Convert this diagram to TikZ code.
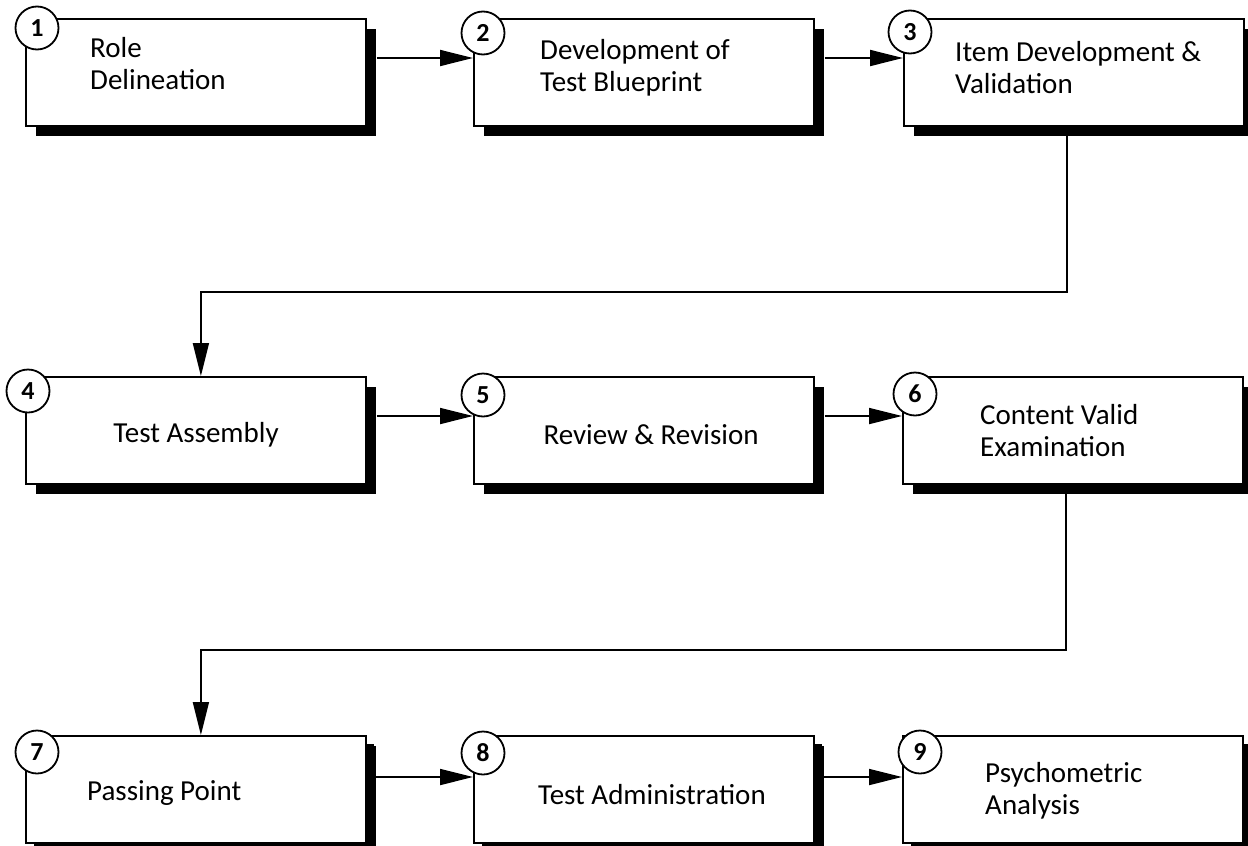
\documentclass[tikz,border=0pt]{standalone}
\usepackage{fontspec}
\setmainfont{Carlito}
\usetikzlibrary{arrows.meta,shadows,calc}
\begin{document}
\begin{tikzpicture}[x=1pt,y=-1pt,
  box/.style={draw=black,line width=1.8pt,fill=white,minimum width=340pt,minimum height=107pt,inner sep=0pt,anchor=north west,
    drop shadow={shadow xshift=10pt,shadow yshift=-10pt,fill=black,opacity=1}},
  boxlow/.style={box,drop shadow={shadow xshift=8pt,shadow yshift=-8pt,fill=black,opacity=1}},
  num/.style={circle,draw=black,line width=1.8pt,fill=white,minimum size=43pt,inner sep=0pt,font=\fontsize{26}{30}\selectfont\bfseries},
  txt/.style={inner sep=0pt,align=left,font=\fontsize{29}{32}\selectfont},
  arr/.style={line width=1.8pt,-{Triangle[length=33pt,width=16pt]}}]
\useasboundingbox (0,0) rectangle (1248,846);
\fill[white] (0,0) rectangle (1248,846);
% boxes
\node[box] (b1) at (25,18) {};
\node[box] (b2) at (473,18) {};
\node[box] (b3) at (903,18) {};
\node[box] (b4) at (25,376) {};
\node[box] (b5) at (473,376) {};
\node[box] (b6) at (902,376) {};
\node[boxlow] (b7) at (25,735) {};
\node[boxlow] (b8) at (473,735) {};
\node[boxlow] (b9) at (902,735) {};
% connectors
\draw[arr] ([xshift=10pt,yshift=-40pt]b1.north east) -- ([yshift=-40pt]b2.north west);
\draw[arr] ([xshift=10pt,yshift=-40pt]b2.north east) -- ([yshift=-40pt]b3.north west);
\draw[arr] ([xshift=-7pt]b3.south) -- ++(0,165) -| ([xshift=5pt]b4.north);
\draw[arr] ([xshift=10pt,yshift=-40pt]b4.north east) -- ([yshift=-40pt]b5.north west);
\draw[arr] ([xshift=10pt,yshift=-40pt]b5.north east) -- ([yshift=-40pt]b6.north west);
\draw[arr] ([xshift=-7pt]b6.south) -- ++(0,165) -| ([xshift=5pt]b7.north);
\draw[arr] ([xshift=8pt,yshift=-42pt]b7.north east) -- ([yshift=-42pt]b8.north west);
\draw[arr] ([xshift=8pt,yshift=-42pt]b8.north east) -- ([yshift=-42pt]b9.north west);
% numbers
\node[num] (c1) at (37,28) {1};
\node[num] (c2) at (483,33) {2};
\node[num] (c3) at (910,32) {3};
\node[num] (c4) at (28,391) {4};
\node[num] (c5) at (483,395) {5};
\node[num] (c6) at (915,394) {6};
\node[num] (c7) at (37,752) {7};
\node[num] (c8) at (483,753) {8};
\node[num] (c9) at (920,752) {9};
% texts
\node[txt,anchor=west] (t1) at (90,64) {Role\\Delineation};
\node[txt,anchor=west] (t2) at (540,68) {Development of\\Test Blueprint};
\node[txt,anchor=west] (t3) at (955,68) {Item Development \&\\Validation};
\node[txt] (t4) at (196,435) {Test Assembly};
\node[txt] (t5) at (651,435) {Review \& Revision};
\node[txt,anchor=west] (t6) at (980,431) {Content Valid\\Examination};
\node[txt,anchor=west] (t7) at (87,793) {Passing Point};
\node[txt] (t8) at (652,795) {Test Administration};
\node[txt,anchor=west] (t9) at (985,791) {Psychometric\\Analysis};
\end{tikzpicture}
\end{document}
